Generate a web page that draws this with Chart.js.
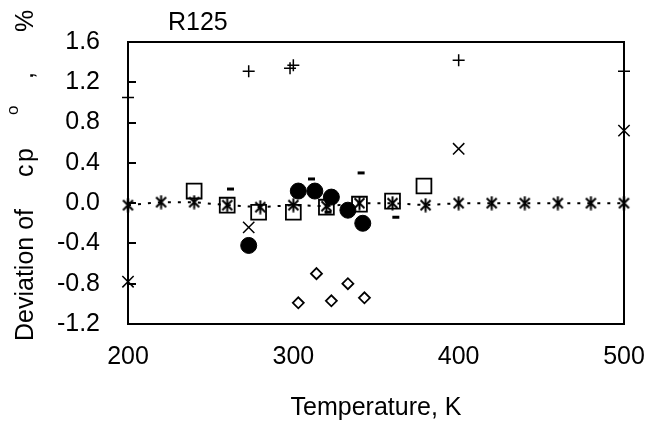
<!DOCTYPE html>
<html><head><meta charset="utf-8">
<script src="https://cdn.jsdelivr.net/npm/chart.js@4.4.1/dist/chart.umd.min.js"></script>
<style>html,body{margin:0;padding:0;background:#fff;} canvas{display:block;}</style>
</head><body>
<canvas id="c" width="647" height="428"></canvas>
<script>
// ---- data ----
const chartTitle = 'R125';
const xTitle = 'Temperature, K';
const xTicks = [200, 300, 400, 500];
const yTicks = [-1.2, -0.8, -0.4, 0.0, 0.4, 0.8, 1.2, 1.6];

const plusT   = [200, 273, 298, 300, 400, 500];
const plusDev = [1.05, 1.31, 1.34, 1.37, 1.42, 1.31];

const crossT   = [200, 273, 400, 500];
const crossDev = [-0.78, -0.24, 0.54, 0.72];

const circleT   = [273, 303, 313, 323, 333, 342];
const circleDev = [-0.42, 0.12, 0.12, 0.06, -0.07, -0.20];

const squareT   = [240, 260, 279, 300, 320, 340, 360, 379];
const squareDev = [0.12, -0.02, -0.09, -0.09, -0.04, -0.01, 0.02, 0.17];

const diamondT   = [303, 314, 323, 333, 343];
const diamondDev = [-0.99, -0.70, -0.97, -0.80, -0.94];

const dashT   = [262, 311, 321, 341, 362];
const dashDev = [0.14, 0.24, -0.09, 0.30, -0.14];

const starT   = [200, 220, 240, 260, 280, 300, 320, 340, 360, 380, 400, 420, 440, 460, 480, 500];
const starDev = [-0.02, 0.01, 0.01, -0.02, -0.04, -0.02, -0.03, 0.00, 0.00, -0.02, 0.00, 0.00, 0.00, 0.00, 0.00, 0.00];

// ---- helpers ----
function pts(xs, ys) { return xs.map((x, i) => ({ x: x, y: ys[i] })); }
const FONT = "'Liberation Sans', Arial, sans-serif";
Chart.defaults.font.family = FONT;
Chart.defaults.color = '#000';

const starImg = (() => {
  const c = document.createElement('canvas');
  c.width = 13; c.height = 15;
  const g = c.getContext('2d');
  g.strokeStyle = '#000'; g.lineWidth = 2;
  g.beginPath();
  g.moveTo(1.5, 2.5); g.lineTo(11.5, 12.5);
  g.moveTo(11.5, 2.5); g.lineTo(1.5, 12.5);
  g.moveTo(6.5, 0.5); g.lineTo(6.5, 14.5);
  g.stroke();
  return c;
})();

const decor = {
  id: 'decor',
  beforeDatasetsDraw(chart) {
    const { ctx, chartArea: a, scales: { y } } = chart;
    ctx.save();
    ctx.strokeStyle = '#000';
    ctx.lineWidth = 2;
    ctx.strokeRect(a.left, a.top, a.right - a.left, a.bottom - a.top);
    ctx.beginPath();
    yTicks.forEach(v => {
      const py = Math.round(y.getPixelForValue(v));
      ctx.moveTo(a.left, py); ctx.lineTo(a.left + 8, py);
    });
    ctx.stroke();
    ctx.restore();
  },
  afterDraw(chart) {
    const { ctx, chartArea: a } = chart;
    ctx.save();
    ctx.fillStyle = '#000';
    ctx.font = '25px ' + FONT;
    ctx.textBaseline = 'alphabetic';
    ctx.fillText(chartTitle, a.left + 40, 30);
    ctx.translate(33, 341);
    ctx.rotate(-Math.PI / 2);
    ctx.fillText('Deviation of', 0, 0);
    ctx.fillText('c', 164, 0);
    ctx.fillText('p', 179, 0);
    ctx.font = '17px ' + FONT;
    ctx.fillText('o', 226, -15);
    ctx.font = '25px ' + FONT;
    ctx.fillText(',', 262, 0);
    ctx.fillText('%', 309, 0);
    ctx.restore();
  }
};

const common = { showLine: false, clip: false, borderColor: '#000' };

new Chart(document.getElementById('c'), {
  type: 'scatter',
  data: {
    datasets: [
      Object.assign({}, common, { label: 'circle', data: pts(circleT, circleDev), pointStyle: 'circle', pointRadius: 8, backgroundColor: '#000', borderWidth: 1, order: 0 }),
      Object.assign({}, common, { label: 'dash', data: pts(dashT, dashDev), pointStyle: 'line', pointRadius: 3.5, borderWidth: 3, order: 1 }),
      Object.assign({}, common, { label: 'plus', data: pts(plusT, plusDev), pointStyle: 'cross', pointRadius: 6, borderWidth: 1.5, order: 2 }),
      Object.assign({}, common, { label: 'cross', data: pts(crossT, crossDev), pointStyle: 'crossRot', pointRadius: 8, borderWidth: 1.5, order: 3 }),
      Object.assign({}, common, { label: 'square', data: pts(squareT, squareDev), pointStyle: 'rect', pointRadius: 10.5, backgroundColor: 'rgba(0,0,0,0)', borderWidth: 1.8, order: 4 }),
      Object.assign({}, common, { label: 'diamond', data: pts(diamondT, diamondDev), pointStyle: 'rectRot', pointRadius: 5.5, backgroundColor: '#fff', borderWidth: 1.8, order: 5 }),
      Object.assign({}, common, { label: 'star', data: pts(starT, starDev), showLine: true, borderDash: [3, 7], borderWidth: 2, pointStyle: starImg, pointRadius: 6, backgroundColor: '#000', order: 6 })
    ]
  },
  options: {
    responsive: false,
    animation: false,
    events: [],
    layout: { padding: { top: 42, right: 23, left: 0, bottom: 0 } },
    plugins: { legend: { display: false }, tooltip: { enabled: false } },
    scales: {
      x: {
        type: 'linear', min: 200, max: 500,
        afterFit(s) { s.height = 104; s.paddingLeft = 0; s.paddingRight = 0; },
        afterBuildTicks(s) { s.ticks = xTicks.map(v => ({ value: v })); },
        grid: { display: false, drawTicks: false },
        border: { display: false },
        ticks: { padding: 18, maxRotation: 0, font: { size: 25 }, color: '#000', callback: v => String(v) },
        title: { display: true, text: xTitle, font: { size: 25 }, color: '#000', padding: { top: 0, bottom: 5 } }
      },
      y: {
        type: 'linear', min: -1.2, max: 1.6,
        afterFit(s) { s.width = 128; s.paddingTop = 0; s.paddingBottom = 0; },
        afterBuildTicks(s) { s.ticks = yTicks.map(v => ({ value: v })); },
        grid: { display: false, drawTicks: false },
        border: { display: false },
        ticks: { padding: 28, font: { size: 25 }, color: '#000', callback: v => (Math.abs(v) < 1e-9 ? 0 : v).toFixed(1) }
      }
    }
  },
  plugins: [decor]
});
</script>
</body></html>
